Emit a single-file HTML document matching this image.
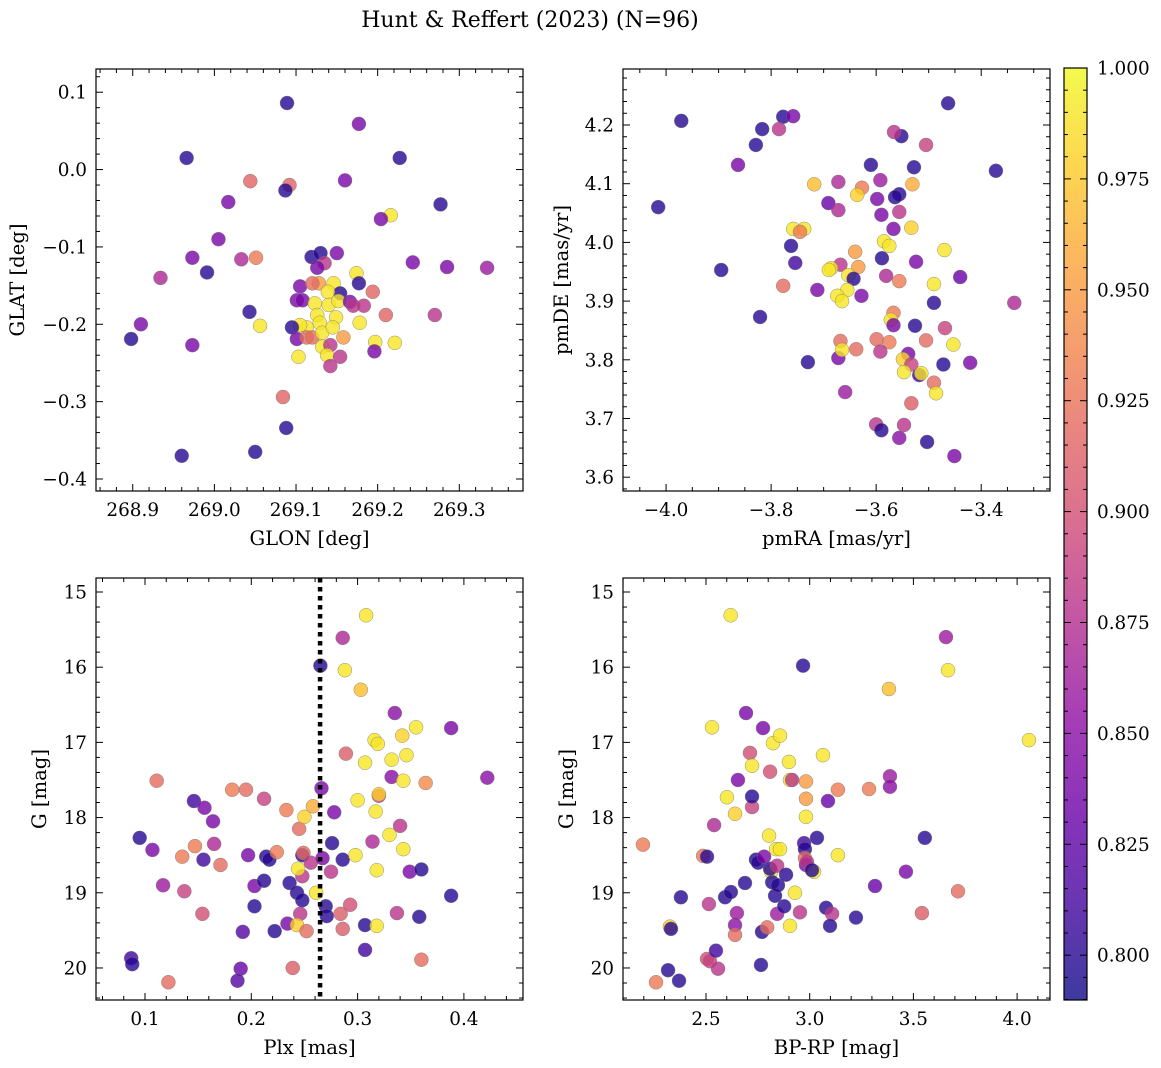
<!DOCTYPE html>
<html><head><meta charset="utf-8"><style>
html,body{margin:0;padding:0;background:#fff;}
svg{display:block;font-family:"DejaVu Serif","Liberation Serif",serif;}
</style></head><body>
<svg id="fig" width="1161" height="1068" viewBox="0 0 1161 1068" xmlns="http://www.w3.org/2000/svg">
<text x="530" y="27" font-size="22" text-anchor="middle">Hunt &amp; Reffert (2023) (N=96)</text>
</svg>
<script>
// Panel data: [x, y, membership probability]
const skyPoints = [[269.089,0.086,0.80],[269.177,0.059,0.84],[269.227,0.015,0.80],[268.966,0.015,0.80],[269.044,-0.015,0.915],[269.092,-0.020,0.915],[269.160,-0.014,0.84],[269.087,-0.027,0.80],[269.277,-0.045,0.80],[269.017,-0.042,0.84],[269.216,-0.059,0.99],[269.204,-0.064,0.84],[269.005,-0.090,0.84],[269.033,-0.116,0.87],[269.051,-0.114,0.93],[268.973,-0.114,0.84],[269.243,-0.120,0.84],[268.934,-0.140,0.87],[268.991,-0.133,0.80],[269.285,-0.126,0.84],[269.334,-0.127,0.86],[268.898,-0.219,0.80],[268.910,-0.200,0.84],[268.973,-0.227,0.84],[268.960,-0.370,0.80],[269.050,-0.365,0.80],[269.088,-0.334,0.80],[269.084,-0.294,0.915],[269.043,-0.184,0.80],[269.056,-0.202,0.99],[269.194,-0.158,0.915],[269.210,-0.188,0.915],[269.221,-0.224,0.99],[269.270,-0.188,0.88],
[269.119,-0.113,0.80],[269.130,-0.108,0.80],[269.150,-0.108,0.84],[269.135,-0.121,0.88],[269.126,-0.127,0.84],[269.174,-0.134,0.99],[269.177,-0.147,0.80],[269.105,-0.151,0.84],[269.128,-0.147,0.95],[269.146,-0.147,0.99],[269.120,-0.147,0.92],[269.154,-0.160,0.80],[269.139,-0.158,0.99],[269.101,-0.169,0.84],[269.108,-0.169,0.84],[269.123,-0.173,0.99],[269.140,-0.175,0.99],[269.152,-0.170,0.99],[269.166,-0.171,0.84],[269.170,-0.176,0.88],[269.183,-0.176,0.88],[269.126,-0.188,0.99],[269.149,-0.191,0.99],[269.113,-0.204,0.99],[269.105,-0.201,0.99],[269.095,-0.204,0.80],[269.129,-0.198,0.99],[269.178,-0.198,0.99],[269.101,-0.219,0.84],[269.113,-0.217,0.92],[269.120,-0.217,0.92],[269.132,-0.211,0.99],[269.145,-0.204,0.99],[269.158,-0.217,0.95],[269.132,-0.229,0.99],[269.142,-0.227,0.88],[269.138,-0.240,0.99],[269.154,-0.242,0.88],[269.142,-0.254,0.88],[269.103,-0.242,0.99],[269.197,-0.223,0.99],[269.196,-0.235,0.84]];
const pmPoints = [[-3.971,4.207,0.80],[-4.015,4.060,0.80],[-3.895,3.953,0.80],[-3.821,3.873,0.80],[-3.817,4.193,0.80],[-3.829,4.166,0.80],[-3.777,4.214,0.80],[-3.758,4.215,0.84],[-3.785,4.193,0.88],[-3.863,4.132,0.84],[-3.463,4.237,0.80],[-3.372,4.122,0.80],[-3.337,3.897,0.87],[-3.610,4.132,0.80],[-3.552,4.181,0.80],[-3.566,4.188,0.88],[-3.505,4.166,0.89],[-3.528,4.128,0.80],[-3.531,4.099,0.96],[-3.592,4.106,0.86],[-3.556,4.082,0.80],[-3.564,4.077,0.80],[-3.627,4.093,0.93],[-3.636,4.081,0.98],[-3.672,4.103,0.87],[-3.718,4.099,0.97],[-3.691,4.067,0.83],[-3.672,4.055,0.87],[-3.598,4.074,0.84],[-3.590,4.047,0.84],[-3.556,4.052,0.88],[-3.567,4.023,0.84],[-3.533,4.025,0.98],[-3.758,4.023,0.99],[-3.737,4.023,0.99],[-3.745,4.018,0.93],[-3.762,3.994,0.80],[-3.585,4.002,0.99],[-3.575,3.994,0.99],[-3.640,3.984,0.95],[-3.470,3.987,0.99],[-3.754,3.965,0.81],[-3.589,3.973,0.80],[-3.524,3.967,0.84],[-3.634,3.958,0.95],[-3.668,3.962,0.88],[-3.686,3.956,0.99],[-3.690,3.953,0.99],[-3.653,3.944,0.99],[-3.581,3.943,0.87],[-3.643,3.938,0.80],[-3.556,3.934,0.93],[-3.440,3.941,0.83],[-3.490,3.929,0.99],[-3.777,3.926,0.92],[-3.712,3.919,0.84],[-3.655,3.919,0.99],[-3.674,3.909,0.99],[-3.665,3.900,0.99],[-3.628,3.909,0.84],[-3.490,3.897,0.80],[-3.567,3.880,0.93],[-3.572,3.868,0.99],[-3.567,3.859,0.84],[-3.526,3.858,0.80],[-3.469,3.854,0.89],[-3.730,3.796,0.80],[-3.672,3.803,0.84],[-3.668,3.832,0.92],[-3.638,3.818,0.92],[-3.599,3.835,0.92],[-3.575,3.830,0.93],[-3.505,3.833,0.92],[-3.453,3.826,0.99],[-3.665,3.817,0.99],[-3.592,3.814,0.88],[-3.539,3.810,0.84],[-3.549,3.801,0.98],[-3.533,3.792,0.89],[-3.472,3.792,0.80],[-3.421,3.795,0.84],[-3.547,3.779,0.99],[-3.518,3.774,0.81],[-3.514,3.777,0.99],[-3.490,3.761,0.92],[-3.486,3.743,0.99],[-3.659,3.745,0.86],[-3.533,3.726,0.91],[-3.600,3.690,0.88],[-3.590,3.680,0.80],[-3.547,3.689,0.88],[-3.556,3.667,0.85],[-3.503,3.660,0.80],[-3.451,3.636,0.84]];
const plxPoints = [[0.087,19.87,0.81],[0.088,19.95,0.80],[0.095,18.27,0.80],[0.107,18.43,0.84],[0.111,17.51,0.92],[0.117,18.90,0.86],[0.122,20.19,0.92],[0.135,18.52,0.93],[0.137,18.98,0.89],[0.146,17.78,0.81],[0.147,18.38,0.93],[0.155,18.56,0.81],[0.154,19.28,0.90],[0.156,17.87,0.84],[0.164,18.05,0.84],[0.165,18.35,0.87],[0.171,18.63,0.92],[0.182,17.63,0.93],[0.195,17.63,0.92],[0.192,19.52,0.82],[0.190,20.01,0.83],[0.187,20.17,0.82],[0.197,18.50,0.84],[0.203,18.91,0.84],[0.203,19.18,0.80],[0.212,17.75,0.89],[0.212,18.84,0.80],[0.214,18.52,0.80],[0.217,18.56,0.80],[0.222,19.51,0.80],[0.224,18.46,0.93],[0.233,17.90,0.93],[0.236,18.87,0.80],[0.239,20.00,0.91],[0.234,19.41,0.84],[0.243,19.00,0.80],[0.248,18.78,0.88],[0.246,19.28,0.88],[0.245,18.15,0.92],[0.248,19.10,0.80],[0.243,19.43,0.98],[0.244,18.68,0.99],[0.248,18.50,0.80],[0.250,17.99,0.98],[0.249,18.47,0.92],[0.252,19.51,0.92],[0.256,18.60,0.88],[0.258,17.85,0.96],[0.261,19.00,0.99],[0.265,15.98,0.80],[0.266,17.61,0.84],[0.270,19.18,0.80],[0.271,19.31,0.80],[0.267,18.54,0.84],[0.276,18.34,0.80],[0.278,17.93,0.84],[0.275,18.72,0.88],[0.284,19.28,0.91],[0.286,15.61,0.87],[0.288,16.04,0.99],[0.289,17.15,0.91],[0.286,18.56,0.80],[0.286,19.48,0.91],[0.293,19.16,0.90],[0.298,18.50,0.99],[0.300,17.77,0.99],[0.303,16.30,0.97],[0.308,15.31,0.99],[0.307,19.76,0.81],[0.307,17.27,0.99],[0.307,19.43,0.80],[0.314,18.32,0.87],[0.317,17.92,0.99],[0.316,16.97,0.99],[0.319,17.02,0.99],[0.320,17.71,0.89],[0.318,18.70,0.99],[0.320,17.69,0.98],[0.318,19.44,0.99],[0.330,18.23,0.99],[0.332,17.46,0.85],[0.335,16.61,0.85],[0.340,18.11,0.88],[0.337,19.27,0.88],[0.332,17.23,0.99],[0.342,16.91,0.98],[0.343,18.42,0.99],[0.343,17.51,0.99],[0.346,17.17,0.99],[0.349,18.72,0.84],[0.355,16.80,0.99],[0.358,19.32,0.80],[0.360,18.69,0.80],[0.360,19.89,0.92],[0.364,17.54,0.94],[0.388,16.81,0.84],[0.388,19.04,0.80],[0.422,17.47,0.85]];
const colorPoints = [[2.196,18.36,0.93],[2.259,20.19,0.93],[2.326,19.45,0.98],[2.331,19.48,0.80],[2.317,20.03,0.80],[2.370,20.17,0.80],[2.379,19.06,0.80],[2.486,18.51,0.93],[2.505,18.52,0.80],[2.514,19.15,0.88],[2.505,19.88,0.90],[2.519,19.91,0.89],[2.529,16.80,0.99],[2.539,18.10,0.87],[2.548,19.77,0.81],[2.558,20.01,0.88],[2.592,19.06,0.80],[2.601,17.73,0.99],[2.620,18.99,0.80],[2.619,15.31,0.99],[2.640,17.95,0.98],[2.640,19.43,0.85],[2.649,19.27,0.86],[2.640,19.56,0.92],[2.654,17.50,0.84],[2.693,16.61,0.84],[2.688,18.87,0.80],[2.712,17.14,0.90],[2.722,17.31,0.99],[2.722,17.86,0.89],[2.722,17.72,0.80],[2.741,18.56,0.80],[2.751,18.60,0.80],[2.770,19.52,0.80],[2.775,16.81,0.84],[2.765,19.96,0.80],[2.795,19.46,0.92],[2.809,17.39,0.90],[2.804,18.24,0.99],[2.780,18.52,0.84],[2.814,18.72,0.99],[2.819,18.86,0.80],[2.809,18.68,0.80],[2.823,17.01,0.99],[2.833,19.04,0.80],[2.838,18.42,0.99],[2.843,18.64,0.88],[2.847,18.90,0.80],[2.857,16.91,0.99],[2.857,18.42,0.99],[2.843,19.28,0.86],[2.877,19.18,0.80],[2.886,18.76,0.80],[2.900,17.26,0.99],[2.905,17.50,0.99],[2.915,17.50,0.88],[2.905,19.44,0.99],[2.929,19.00,0.99],[2.953,19.26,0.88],[2.968,15.98,0.80],[2.982,17.52,0.95],[2.982,17.75,0.95],[2.982,17.99,0.99],[2.973,18.34,0.81],[2.977,18.42,0.80],[2.977,18.54,0.92],[2.982,18.63,0.84],[2.987,18.59,0.88],[3.021,18.72,0.99],[3.011,18.70,0.80],[3.035,18.27,0.80],[3.064,17.17,0.99],[3.079,19.20,0.80],[3.088,17.78,0.83],[3.108,19.28,0.88],[3.098,19.44,0.80],[3.136,18.50,0.99],[3.136,17.63,0.93],[3.223,19.33,0.80],[3.286,17.62,0.93],[3.315,18.91,0.83],[3.382,16.29,0.97],[3.387,17.45,0.86],[3.387,17.59,0.85],[3.464,18.72,0.84],[3.541,19.27,0.91],[3.555,18.27,0.80],[3.657,15.60,0.86],[3.667,16.04,0.99],[3.715,18.98,0.92],[4.057,16.97,0.99]];
const plxCut = 0.2647;
const cbTicks = [0.800,0.825,0.850,0.875,0.900,0.925,0.950,0.975,1.000];
const vmin = 0.7899, vmax = 1.0;

const plasma=[[13,8,135],[65,4,157],[106,0,168],[143,13,164],[177,42,144],[204,71,120],[225,100,98],[242,132,75],[252,166,54],[252,206,37],[240,249,33]];
function cmap(v){let t=Math.max(0,Math.min(1,(v-vmin)/(vmax-vmin)))*10;let i=Math.min(9,Math.floor(t));let f=t-i;const a=plasma[i],b=plasma[i+1];return `rgb(${Math.round(a[0]+(b[0]-a[0])*f)},${Math.round(a[1]+(b[1]-a[1])*f)},${Math.round(a[2]+(b[2]-a[2])*f)})`;}
const NS="http://www.w3.org/2000/svg";
const fig=document.getElementById('fig');
function el(tag,attrs,parent){const e=document.createElementNS(NS,tag);for(const k in attrs)e.setAttribute(k,attrs[k]);(parent||fig).appendChild(e);return e;}
function fmt(v,d){let s=v.toFixed(d);if(v<-1e-9)s='\u2212'+s.slice(1);return s;}
const TF=18.4, AF=19.6;

function panel(o){
  const g=el('g',{});
  
  
  const L=o.box[0],T=o.box[1],R=o.box[2],B=o.box[3];
  const sx=v=>L+(v-o.xr[0])/(o.xr[1]-o.xr[0])*(R-L);
  const sy=v=>o.yinv? T+(v-o.yr[0])/(o.yr[1]-o.yr[0])*(B-T) : B-(v-o.yr[0])/(o.yr[1]-o.yr[0])*(B-T);
  o.data.forEach(p=>{
    const c=el('circle',{cx:sx(p[0]),cy:sy(p[1]),r:7,fill:cmap(p[2]),'fill-opacity':0.8,stroke:'#777','stroke-width':0.5,'stroke-opacity':0.8},g);
    
    
  });
  if(o.vline!==undefined){
    const l=el('line',{x1:sx(o.vline),x2:sx(o.vline),y1:T,y2:B,stroke:'#000','stroke-width':4.5,'stroke-dasharray':'4.5,4.5'},g);
    
    
  }
  const frame=el('rect',{x:L,y:T,width:R-L,height:B-T,fill:'none',stroke:'#000','stroke-width':1.2},g);
  
  
  function ticks(lo,hi,step,minorDiv,axis){
    const n0=Math.ceil(lo/step*minorDiv-1e-6),n1=Math.floor(hi/step*minorDiv+1e-6);
    for(let n=n0;n<=n1;n++){
      const v=n*step/minorDiv,major=(n%minorDiv===0),len=major?7:4;
      if(axis==='x'){const x=sx(v);
        el('line',{x1:x,x2:x,y1:B,y2:B-len,stroke:'#000','stroke-width':1},g);
        el('line',{x1:x,x2:x,y1:T,y2:T+len,stroke:'#000','stroke-width':1},g);
        if(major){const t=el('text',{x:x,y:B+25,'font-size':TF,'text-anchor':'middle'},g);t.textContent=fmt(v,o.xd);
          
          }
      }else{const y=sy(v);
        el('line',{x1:L,x2:L+len,y1:y,y2:y,stroke:'#000','stroke-width':1},g);
        el('line',{x1:R,x2:R-len,y1:y,y2:y,stroke:'#000','stroke-width':1},g);
        if(major){const t=el('text',{x:L-9,y:y+6.5,'font-size':TF,'text-anchor':'end'},g);t.textContent=fmt(v,o.yd);
          
          }
      }
    }
  }
  ticks(o.xr[0],o.xr[1],o.xs,o.xm,'x');
  ticks(Math.min(o.yr[0],o.yr[1]),Math.max(o.yr[0],o.yr[1]),o.ys,o.ym,'y');
  const xl=el('text',{x:(L+R)/2,y:B+54,'font-size':AF,'text-anchor':'middle'},g);xl.textContent=o.xlabel;
  
  
  const yx=o.ylx;
  const yl=el('text',{x:yx,y:(T+B)/2,'font-size':AF,'text-anchor':'middle',transform:`rotate(-90 ${yx} ${(T+B)/2})`},g);yl.textContent=o.ylabel;
  
  
}
panel({name:'sky-position-panel',box:[96,69,523,491],xr:[268.855,269.378],yr:[-0.4155,0.130],xs:0.1,xm:5,ys:0.1,ym:5,xd:1,yd:1,data:skyPoints,xlabel:'GLON [deg]',ylabel:'GLAT [deg]',ylx:24});
panel({name:'proper-motion-panel',box:[623,69,1050,491],xr:[-4.082,-3.269],yr:[3.5765,4.2954],xs:0.2,xm:4,ys:0.1,ym:5,xd:1,yd:1,data:pmPoints,xlabel:'pmRA [mas/yr]',ylabel:'pmDE [mas/yr]',ylx:568});
panel({name:'parallax-magnitude-panel',box:[96,578,523,1000],xr:[0.0539,0.4556],yr:[14.814,20.426],yinv:true,xs:0.1,xm:5,ys:1,ym:5,xd:1,yd:0,data:plxPoints,vline:plxCut,xlabel:'Plx [mas]',ylabel:'G [mag]',ylx:46});
panel({name:'color-magnitude-panel',box:[623,578,1050,1000],xr:[2.0998,4.1586],yr:[14.814,20.426],yinv:true,xs:0.5,xm:5,ys:1,ym:5,xd:1,yd:0,data:colorPoints,xlabel:'BP-RP [mag]',ylabel:'G [mag]',ylx:573});

const cb=el('g',{});


const defs=el('defs',{},cb);
const grad=el('linearGradient',{id:'pl',x1:0,y1:1,x2:0,y2:0},defs);
plasma.forEach((c,i)=>el('stop',{offset:i/10,'stop-color':`rgb(${c})`,'stop-opacity':0.8},grad));
const CT=68,CB=1000,CL=1064,CR=1087;
el('rect',{x:CL,y:CT,width:CR-CL,height:CB-CT,fill:'url(#pl)',stroke:'#000','stroke-width':1.2},cb);
const cy=v=>CB-(v-vmin)/(vmax-vmin)*(CB-CT);
for(let v=0.790;v<=1.0001;v+=0.005){const y=cy(v);const major=cbTicks.some(t=>Math.abs(t-v)<1e-6);
  el('line',{x1:CR,x2:CR-(major?7:4),y1:y,y2:y,stroke:'#000','stroke-width':1},cb);
  el('line',{x1:CL,x2:CL+(major?7:4),y1:y,y2:y,stroke:'#000','stroke-width':1},cb);}
cbTicks.forEach(v=>{const t=el('text',{x:CR+10,y:cy(v)+6.5,'font-size':TF},cb);t.textContent=v.toFixed(3);
  
  });
</script>
</body></html>
